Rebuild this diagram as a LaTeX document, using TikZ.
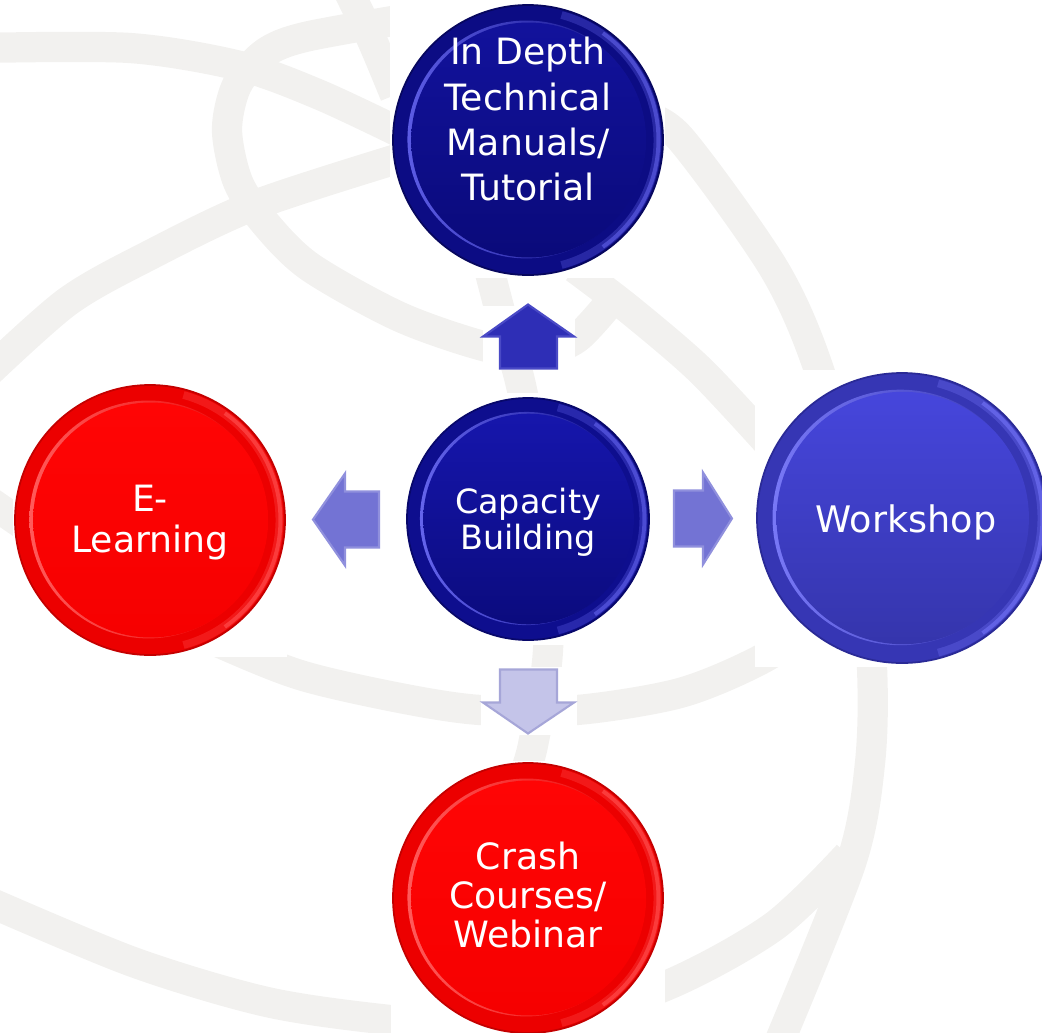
\documentclass[tikz,border=0pt]{standalone}
\usepackage{fontspec}
\setmainfont{DejaVu Sans}
\usetikzlibrary{calc}
% palettes
\definecolor{bandcol}{HTML}{F2F1EF}
\definecolor{topEdge}{HTML}{0C0C84}\definecolor{topEdgeHi}{HTML}{5A5AE0}\definecolor{topLine}{HTML}{07075E}
\definecolor{topHi}{HTML}{5C5CE4}\definecolor{topTop}{HTML}{12129C}\definecolor{topBot}{HTML}{0A0A7A}
\definecolor{hubEdge}{HTML}{0E0E8E}\definecolor{hubEdgeHi}{HTML}{5A5AE4}\definecolor{hubLine}{HTML}{08086A}
\definecolor{hubHi}{HTML}{6464EC}\definecolor{hubTop}{HTML}{1616AC}\definecolor{hubBot}{HTML}{0B0B7E}
\definecolor{wsEdge}{HTML}{3636B4}\definecolor{wsEdgeHi}{HTML}{6E6EF2}\definecolor{wsLine}{HTML}{2A2A96}
\definecolor{wsHi}{HTML}{7878F6}\definecolor{wsTop}{HTML}{4646DC}\definecolor{wsBot}{HTML}{3535AC}
\definecolor{redEdge}{HTML}{EC0000}\definecolor{redEdgeHi}{HTML}{FF4A4A}\definecolor{redLine}{HTML}{C40000}
\definecolor{redHi}{HTML}{FF5A5A}\definecolor{redTop}{HTML}{FF0505}\definecolor{redBot}{HTML}{F60000}
\definecolor{arUp}{HTML}{2E2EB6}\definecolor{arUpB}{HTML}{4A4AC6}
\definecolor{arSide}{HTML}{7373D4}\definecolor{arSideB}{HTML}{9090DD}
\definecolor{arDown}{HTML}{C4C4E9}\definecolor{arDownB}{HTML}{A6A6D8}
\newcommand\glossybtn[5]{%
  \pgfmathsetmacro\gR{#4}%
  % outer ring
  \fill[#5Edge, draw=#5Line, line width=0.5pt] (#2,#3) circle[radius=\gR*0.01cm];
  % soft light edge on the right
  \draw[#5EdgeHi, line width=2.2pt, opacity=0.35]
     ($(#2,#3)+(-75:\gR*0.01cm-1.6pt)$) arc[start angle=-75, end angle=75, radius=\gR*0.01cm-1.6pt];
  \draw[#5EdgeHi, line width=1.1pt, opacity=0.7]
     ($(#2,#3)+(-55:\gR*0.01cm-1.3pt)$) arc[start angle=-55, end angle=55, radius=\gR*0.01cm-1.3pt];
  % light crescent of the inner rim, on the left
  \shade[left color=#5Hi, middle color=#5Edge, right color=#5Edge]
     ({#2-0.012*\gR},{#3-0.004*\gR}) circle[radius=\gR*0.0088cm];
  % main face
  \shade[top color=#5Top, bottom color=#5Bot]
     ({#2+0.005*\gR},{#3}) circle[radius=\gR*0.0087cm];
  \node[circle, minimum size=\gR*0.02cm, inner sep=0pt] (#1) at (#2,#3) {};
}
\begin{document}
\begin{tikzpicture}[x=0.01cm, y=-0.01cm,
  band/.style={draw=bandcol, line width=8.6pt},
  blank/.style={fill=white},
  lbl/.style={text=white, align=center, inner sep=0pt},
  blockar/.style args={#1/#2}{fill=#1, draw=#2, line width=0.6pt, line join=miter}]
\useasboundingbox (0,0) rectangle (1042,1033);
\clip (0,0) rectangle (1042,1033);
% ---- background bands
\draw[band] plot[smooth] coordinates {(-20,48) (130,48) (240,66) (320,95) (405,135)};
\draw[band] plot[smooth] coordinates {(640,115) (680,138) (773,267) (818,367) (860,520) (872,667) (870,763) (851,863) (778,1045)};
\draw[band] plot[smooth] coordinates {(410,18) (305,37) (265,53) (237,85) (227,130) (238,182) (265,223) (310,267) (400,317) (487,347) (540,352) (577,338) (612,300)};
\draw[band] plot[smooth] coordinates {(575,268) (630,310) (700,370) (770,445)};
\draw[band] plot[smooth] coordinates {(-20,380) (67,302) (150,255) (255,205) (400,158)};
\draw[band] plot[smooth] coordinates {(348,-10) (372,40) (395,95)};
\draw[band] plot[smooth] coordinates {(-20,495) (60,550) (140,605) (213,640) (300,675) (400,698) (480,710) (577,710) (680,693) (760,660) (830,615)};
\draw[band] plot[smooth] coordinates {(-20,898) (133,962) (267,1002) (390,1020) (520,1030) (663,987) (773,927) (848,855)};
\draw[band] plot[smooth] coordinates {(488,265) (505,330) (522,390) (545,520) (548,650) (533,745) (522,780)};
% ---- white backings
\fill[blank] (390,0) rectangle (665,278);
\fill[blank] (13,383) rectangle (287,657);
\fill[blank] (755,370) rectangle (1042,667);
\fill[blank] (408,393) rectangle (649,645);
\fill[blank] (391,761) rectangle (665,1033);
\fill[blank] (483,306) rectangle (575,370);
\fill[blank] (481,667) rectangle (577,735);
\fill[blank] (315,472) rectangle (385,568);
\fill[blank] (669,472) rectangle (731,568);
% ---- buttons
\glossybtn{top}{528}{140}{135}{top}
\glossybtn{hub}{528}{519}{121}{hub}
\glossybtn{left}{150}{520}{135}{red}
\glossybtn{right}{902}{518}{145}{ws}
\glossybtn{bottom}{528}{898}{135}{red}
% ---- block arrows between hub and the four buttons
\coordinate (ua) at ($(hub.north)!0.5!(top.south)$);
\coordinate (la) at ($(hub.west)!0.5!(left.east)$);
\coordinate (ra) at ($(hub.east)!0.5!(right.west)$);
\coordinate (da) at ($(hub.south)!0.5!(bottom.north)$);
\draw[blockar=arUp/arUpB, shift={(ua)}] (-28,32) -- (-28,0) -- (-45,0) -- (0,-32) -- (46,0) -- (29,0) -- (29,32) -- cycle;
\draw[blockar=arSide/arSideB, shift={(la)}] (33,-28) -- (-1,-28) -- (-1,-46) -- (-33,0) -- (-1,46) -- (-1,28) -- (33,28) -- cycle;
\draw[blockar=arSide/arSideB, shift={(ra)}] (-29,-28) -- (0,-28) -- (0,-46) -- (29,0) -- (0,46) -- (0,28) -- (-29,28) -- cycle;
\draw[blockar=arDown/arDownB, shift={(da)}] (-28,-32) -- (29,-32) -- (29,1) -- (46,1) -- (0,32) -- (-45,1) -- (-28,1) -- cycle;
% ---- labels
\node[lbl, font=\fontsize{10.3}{12.8}\selectfont] (tTop) at (528,119) {In Depth\\Technical\\Manuals/\\Tutorial};
\node[lbl, font=\fontsize{9.5}{10.25}\selectfont] (tHub) at (528,522) {Capacity\\Building};
\node[lbl, font=\fontsize{10.4}{12}\selectfont] (tRight) at (906,522) {Workshop};
\node[lbl, font=\fontsize{10.3}{11.67}\selectfont] (tLeft) at (150,523) {E-\\Learning};
\node[lbl, font=\fontsize{10.3}{11.1}\selectfont] (tBottom) at (528,895) {Crash\\Courses/\\Webinar};
\end{tikzpicture}
\end{document}
